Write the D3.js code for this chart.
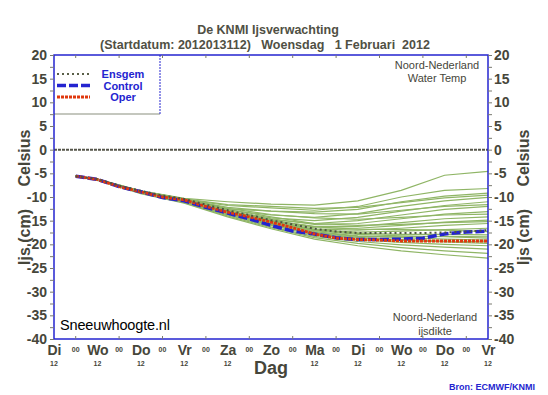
<!DOCTYPE html>
<html>
<head>
<meta charset="utf-8">
<script src="https://cdn.jsdelivr.net/npm/d3@7"></script>
<style>
body { margin: 0; background: #fff; }
text { font-family: "Liberation Sans", Arial, sans-serif; }
</style>
</head>
<body>
<script>
var w = 548;
var h = 395;

// dag labels (op 12 uur) vanaf startdatum di 31 jan 12u
var dayLabels = ["Di", "Wo", "Do", "Vr", "Za", "Zo", "Ma", "Di", "Wo", "Do", "Vr"];
var yTicks = [20, 15, 10, 5, 0, -5, -10, -15, -20, -25, -30, -35, -40];

// tijd in dagen na startdatum
var mainDays = [0.5, 1, 1.5, 2, 2.5, 3, 3.5, 4, 4.5, 5, 5.5, 6, 6.5, 7, 7.5, 8, 8.5, 9, 9.5, 10];
var oper    = [-5.6, -6.3, -7.8, -8.9, -10.0, -10.6, -12.0, -13.2, -14.2, -15.3, -16.5, -17.8, -18.7, -19.0, -19.1, -19.3, -19.3, -19.3, -19.3, -19.3];
var control = [-5.6, -6.3, -7.8, -8.9, -10.1, -10.8, -12.2, -13.4, -14.6, -16.0, -17.2, -17.8, -18.6, -19.0, -19.0, -18.9, -18.7, -17.8, -17.4, -17.2];
var ensgem  = [-5.6, -6.2, -7.6, -8.7, -9.7, -10.4, -11.6, -12.8, -13.8, -14.9, -15.8, -16.7, -17.3, -17.6, -17.6, -17.6, -17.6, -17.5, -17.3, -17.0];

var memberDays = [0.5, 1, 2, 3, 4, 5, 6, 7, 8, 9, 10];
var members = [
  [-5.6, -6.2, -8.7, -10.3, -11.0, -11.5, -11.7, -10.8, -8.6, -5.4, -4.6],
  [-5.6, -6.3, -8.8, -10.5, -11.8, -12.3, -12.8, -12.0, -10.0, -8.6, -8.2],
  [-5.6, -6.3, -8.9, -10.6, -12.5, -13.0, -13.2, -12.6, -11.0, -9.8, -9.2],
  [-5.6, -6.2, -8.8, -10.4, -12.8, -13.8, -14.3, -13.5, -12.0, -10.8, -10.1],
  [-5.6, -6.3, -8.9, -10.7, -13.0, -14.4, -15.0, -14.3, -13.0, -11.8, -11.0],
  [-5.6, -6.3, -8.9, -10.6, -12.9, -14.8, -15.6, -15.0, -13.8, -12.6, -12.0],
  [-5.6, -6.4, -9.0, -10.8, -13.1, -14.6, -15.8, -15.6, -14.6, -13.6, -13.1],
  [-5.6, -6.3, -8.8, -10.5, -13.0, -15.0, -16.2, -16.2, -15.4, -14.6, -14.2],
  [-5.6, -6.3, -8.9, -10.6, -13.2, -15.2, -16.5, -16.6, -16.0, -15.3, -14.9],
  [-5.6, -6.3, -8.9, -10.8, -13.3, -15.4, -16.8, -17.0, -16.6, -16.0, -15.6],
  [-5.6, -6.4, -9.0, -10.9, -13.4, -15.6, -17.0, -17.4, -17.2, -16.9, -16.6],
  [-5.6, -6.3, -8.8, -10.6, -13.1, -15.1, -16.9, -17.7, -17.9, -17.9, -18.0],
  [-5.6, -6.3, -8.9, -10.7, -13.3, -15.5, -17.3, -18.2, -18.6, -18.9, -19.1],
  [-5.6, -6.4, -9.0, -10.9, -13.5, -15.8, -17.8, -18.7, -19.2, -19.5, -19.8],
  [-5.6, -6.3, -9.1, -11.0, -13.6, -16.0, -18.0, -19.0, -19.6, -20.0, -20.3],
  [-5.6, -6.4, -9.1, -11.1, -13.8, -16.3, -18.3, -19.4, -20.1, -20.6, -21.0],
  [-5.6, -6.4, -9.2, -11.2, -14.0, -16.5, -18.6, -19.8, -20.7, -21.4, -21.9],
  [-5.6, -6.5, -9.3, -11.3, -14.2, -16.7, -18.9, -20.3, -21.4, -22.2, -22.9],
  [-5.6, -6.3, -8.8, -10.5, -12.6, -14.2, -15.6, -16.0, -15.8, -15.4, -15.2],
  [-5.6, -6.2, -8.7, -10.4, -12.4, -13.7, -14.4, -14.7, -14.3, -13.8, -13.6],
  [-5.6, -6.4, -9.0, -10.8, -13.4, -15.7, -17.5, -18.3, -18.4, -18.3, -18.4],
  [-5.6, -6.3, -8.9, -10.7, -13.2, -15.4, -17.1, -17.9, -18.2, -18.4, -18.7],
  [-5.6, -6.3, -8.9, -10.6, -13.0, -14.9, -16.3, -16.8, -16.9, -17.0, -17.3],
  [-5.6, -6.4, -9.0, -10.9, -13.6, -15.9, -17.6, -18.5, -19.0, -19.3, -19.5],
  [-5.6, -6.3, -8.8, -10.5, -12.2, -13.0, -13.5, -13.6, -12.8, -12.0, -11.6],
  [-5.6, -6.3, -8.8, -10.4, -11.6, -12.0, -12.4, -12.2, -11.2, -10.2, -9.6]
];

var legendNames = ["Ensgem", "Control", "Oper"];

var dark = "#46463a";
var blue = "#2424d0";

var svg = d3.select("body").append("svg")
    .attr("width", w)
    .attr("height", h);

var x = d3.scaleLinear().domain([0, 10]).range([54, 488]);
var y = d3.scaleLinear().domain([-40, 20]).range([339, 55]);

// titel
svg.append("text").attr("x", 268).attr("y", 34)
    .attr("text-anchor", "middle").attr("font-size", 12.5).attr("font-weight", "bold")
    .attr("fill", "#505044").text("De KNMI Ijsverwachting");
svg.append("text").attr("x", 265).attr("y", 49)
    .attr("text-anchor", "middle").attr("font-size", 12.5).attr("font-weight", "bold")
    .attr("fill", "#505044").style("white-space", "pre")
    .text("(Startdatum: 2012013112)   Woensdag   1 Februari  2012");

// lijnen
var line = function(days) {
    return d3.line().x(function(d, i) { return x(days[i]); }).y(function(d) { return y(d); });
};

svg.append("g").selectAll("path")
    .data(members)
    .enter().append("path")
    .attr("d", line(memberDays))
    .attr("fill", "none")
    .attr("stroke", "#8fb565")
    .attr("stroke-width", 1.2);

svg.append("path").attr("d", line(mainDays)(control))
    .attr("fill", "none").attr("stroke", blue)
    .attr("stroke-width", 3.5).attr("stroke-dasharray", "9,3");
svg.append("path").attr("d", line(mainDays)(oper))
    .attr("fill", "none").attr("stroke", "#e0380e")
    .attr("stroke-width", 2.8).attr("stroke-dasharray", "3,1");
svg.append("path").attr("d", line(mainDays)(ensgem))
    .attr("fill", "none").attr("stroke", "#4c5440")
    .attr("stroke-width", 2).attr("stroke-dasharray", "2,3");

// nul lijn
svg.append("line").attr("x1", x(0)).attr("x2", x(10)).attr("y1", y(0)).attr("y2", y(0))
    .attr("stroke", "#55554a").attr("stroke-width", 2).attr("stroke-dasharray", "3,1");

// legenda
svg.append("rect").attr("x", 54).attr("y", 55).attr("width", 106).attr("height", 59)
    .attr("fill", "#fff").attr("stroke", "none");
svg.append("line").attr("x1", 54).attr("x2", 160).attr("y1", 114).attr("y2", 114)
    .attr("stroke", "#b0b4a8").attr("stroke-width", 1.5);
svg.append("line").attr("x1", 160).attr("x2", 160).attr("y1", 55).attr("y2", 114)
    .attr("stroke", blue).attr("stroke-width", 1).attr("stroke-dasharray", "2,1");
var legStyles = [
    {c: "#5a6048", sw: 2, da: "2,3"},
    {c: blue, sw: 3.5, da: "9,3"},
    {c: "#e0380e", sw: 2.8, da: "3,1"}
];
legendNames.forEach(function(n, i) {
    var ly = 74 + i * 11.5;
    svg.append("line").attr("x1", 57).attr("x2", 90).attr("y1", ly).attr("y2", ly)
        .attr("stroke", legStyles[i].c).attr("stroke-width", legStyles[i].sw)
        .attr("stroke-dasharray", legStyles[i].da);
    svg.append("text").attr("x", 123).attr("y", ly + 4).attr("text-anchor", "middle")
        .attr("font-size", 11).attr("font-weight", "bold").attr("fill", blue).text(n);
});

// kader
svg.append("rect").attr("x", x(0)).attr("y", y(20))
    .attr("width", x(10) - x(0)).attr("height", y(-40) - y(20))
    .attr("fill", "none").attr("stroke", blue).attr("stroke-width", 1.5);

// y assen
var leftAxis = d3.axisLeft(y).tickValues(d3.range(-40, 20.1, 2.5))
    .tickSize(4).tickPadding(3)
    .tickFormat(function(d) { return d % 5 === 0 ? d : ""; });
var rightAxis = d3.axisRight(y).tickValues(d3.range(-40, 20.1, 2.5))
    .tickSize(4).tickPadding(2)
    .tickFormat(function(d) { return d % 5 === 0 ? d : ""; });

var gl = svg.append("g").attr("transform", "translate(" + x(0) + ",0)").call(leftAxis);
var gr = svg.append("g").attr("transform", "translate(" + x(10) + ",0)").call(rightAxis);
[gl, gr].forEach(function(g) {
    g.select(".domain").remove();
    g.selectAll(".tick line").attr("stroke", "#7a7a70");
    g.selectAll(".tick text").attr("font-size", 14).attr("font-weight", "bold")
        .attr("fill", dark).attr("font-family", "Liberation Sans, Arial, sans-serif");
});

// x as
var xAxis = d3.axisBottom(x).tickValues(d3.range(0, 10.01, 1))
    .tickSize(0).tickPadding(6)
    .tickFormat(function(d, i) { return dayLabels[i]; });
var gx = svg.append("g").attr("transform", "translate(0," + y(-40) + ")").call(xAxis);
gx.select(".domain").remove();
gx.selectAll(".tick text").attr("font-size", 14).attr("font-weight", "bold")
    .attr("fill", dark).attr("font-family", "Liberation Sans, Arial, sans-serif");

var halfDays = d3.range(0.5, 10, 1);
svg.append("g").selectAll("text").data(halfDays).enter().append("text")
    .attr("x", function(d) { return x(d); }).attr("y", 352)
    .attr("text-anchor", "middle").attr("font-size", 7).attr("font-weight", "bold")
    .attr("fill", dark).text("00");
// onder Zo staat de as titel
svg.append("g").selectAll("text").data([0, 1, 2, 3, 4, 6, 7, 8, 9, 10]).enter().append("text")
    .attr("x", function(d) { return x(d); }).attr("y", 366)
    .attr("text-anchor", "middle").attr("font-size", 7).attr("font-weight", "bold")
    .attr("fill", dark).text("12");
[y(-40), y(20)].forEach(function(yy, k) {
    svg.append("g").selectAll("line").data(halfDays).enter().append("line")
        .attr("x1", function(d) { return x(d); }).attr("x2", function(d) { return x(d); })
        .attr("y1", yy).attr("y2", k === 0 ? yy - 3 : yy + 3)
        .attr("stroke", "#7a7a70");
});

svg.append("text").attr("x", 271).attr("y", 374).attr("text-anchor", "middle")
    .attr("font-size", 18).attr("font-weight", "bold").attr("fill", dark).text("Dag");

// as titels
[24, 523].forEach(function(ax) {
    svg.append("text").attr("transform", "translate(" + ax + ",158) rotate(-90)")
        .attr("text-anchor", "middle").attr("dy", "0.35em")
        .attr("font-size", 16).attr("font-weight", "bold").attr("fill", dark).text("Celsius");
    svg.append("text").attr("transform", "translate(" + ax + ",237) rotate(-90)")
        .attr("text-anchor", "middle").attr("dy", "0.35em")
        .attr("font-size", 16).attr("font-weight", "bold").attr("fill", dark).text("Ijs (cm)");
});

// teksten in plot
svg.append("text").attr("x", 437).attr("y", 69).attr("text-anchor", "middle")
    .attr("font-size", 11).attr("fill", dark).text("Noord-Nederland");
svg.append("text").attr("x", 437).attr("y", 82).attr("text-anchor", "middle")
    .attr("font-size", 11).attr("fill", dark).text("Water Temp");
svg.append("text").attr("x", 435).attr("y", 321).attr("text-anchor", "middle")
    .attr("font-size", 11).attr("fill", dark).text("Noord-Nederland");
svg.append("text").attr("x", 435).attr("y", 335).attr("text-anchor", "middle")
    .attr("font-size", 11).attr("fill", dark).text("ijsdikte");

svg.append("text").attr("x", 60).attr("y", 330)
    .attr("font-size", 14.5).attr("fill", "#000")
    .attr("font-family", "DejaVu Sans, sans-serif").attr("textLength", 110)
    .text("Sneeuwhoogte.nl");

svg.append("text").attr("x", 535).attr("y", 390).attr("text-anchor", "end")
    .attr("font-size", 9).attr("font-weight", "bold").attr("fill", blue)
    .text("Bron: ECMWF/KNMI");
</script>
</body>
</html>
